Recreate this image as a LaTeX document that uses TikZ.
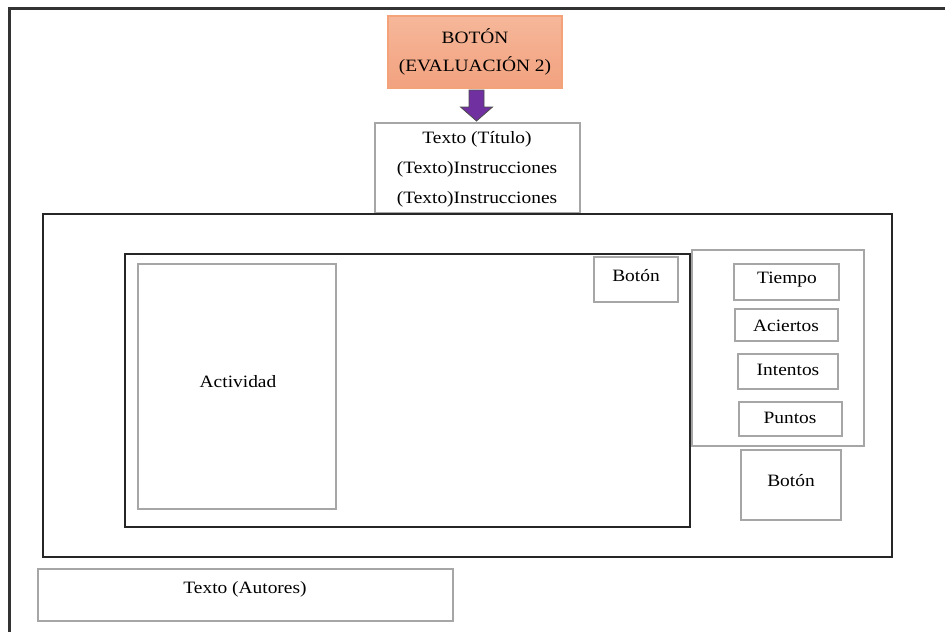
\documentclass[tikz,border=0pt]{standalone}
\usepackage{fontspec}
\setmainfont{Liberation Serif}[FakeStretch=1.12]
\definecolor{framegray}{HTML}{A6A6A6}
\definecolor{btnfill}{HTML}{F6B79A}
\definecolor{btnfilllow}{HTML}{F2A27F}
\definecolor{btnedge}{HTML}{F4A27A}
\definecolor{arrowpurple}{HTML}{7030A0}
\begin{document}
\begin{tikzpicture}[x=0.75pt,y=-0.75pt,
  graybox/.style={draw=framegray,line width=1.3pt},
  blackbox/.style={draw=black!85,line width=1.5pt},
  lbl/.style={font=\fontsize{13}{15}\selectfont,inner sep=0pt}]
\useasboundingbox (0,0) rectangle (945,632);
% page frame (top and left edges)
\draw[black!80,line width=2pt] (945,8.5) -- (9.5,8.5) -- (9.5,632);
% orange button
\shade[top color=btnfill,bottom color=btnfilllow,draw=btnedge,line width=1pt]
  (388,16) rectangle (562,88);
\node[lbl] (btn) at (475,36) {BOTÓN};
\node[lbl] (eval) at (475,66) {(EVALUACIÓN 2)};
\coordinate (btnbottom) at (475,88);
% title box
\draw[graybox] (375,123) rectangle (580,213);
\coordinate (titletop) at (477,123);
\node[lbl] (title) at (477,139) {Texto (Título)};
\node[lbl] (ins1) at (477,169) {(Texto)Instrucciones};
\node[lbl] (ins2) at (477,199) {(Texto)Instrucciones};
% block arrow
\filldraw[fill=arrowpurple,draw=black!70,line width=0.6pt]
  (469,90) -- (484,90) -- (484,107) -- (492.5,107) -- (476.5,121)
  -- (460.5,107) -- (469,107) -- cycle;
% main area
\draw[blackbox] (42.5,213.5) rectangle (892,557);
\draw[blackbox] (125,254) rectangle (690,527);
\draw[graybox] (138,264) rectangle (336,509);
\node[lbl] (act) at (238,382) {Actividad};
\draw[graybox] (594,257) rectangle (678,302);
\node[lbl] (b1) at (636,276) {Botón};
% side panel
\draw[graybox] (692,250) rectangle (864,446);
\draw[graybox] (734,264) rectangle (839,300);
\node[lbl] (tiempo) at (787,280) {Tiempo};
\draw[graybox] (735,309) rectangle (838,341);
\node[lbl] (aciertos) at (786,326) {Aciertos};
\draw[graybox] (738,354) rectangle (838,389);
\node[lbl] (intentos) at (788,370) {Intentos};
\draw[graybox] (739,402) rectangle (842,436);
\node[lbl] (puntos) at (790,418) {Puntos};
\draw[graybox] (741,450) rectangle (841,520);
\node[lbl] (b2) at (791,481) {Botón};
% authors
\draw[graybox] (38,569) rectangle (453,621);
\node[lbl] (autores) at (245,589) {Texto (Autores)};
\end{tikzpicture}
\end{document}
